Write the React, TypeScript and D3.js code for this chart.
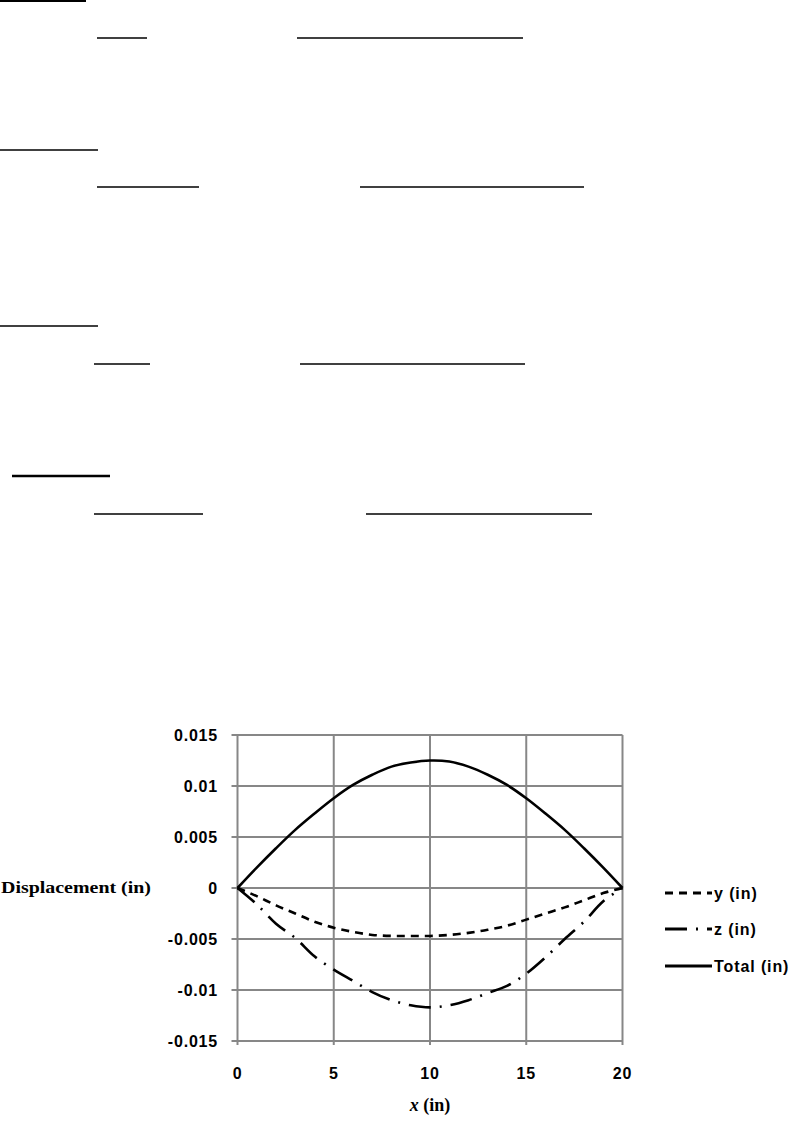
import React from "react";
import * as d3 from "d3";

const xValues = [0, 1, 2, 3, 4, 5, 6, 7, 8, 9, 10, 11, 12, 13, 14, 15, 16, 17, 18, 19, 20];
const yDisp = [0, -0.0008, -0.0017, -0.0025, -0.0033, -0.0039, -0.0043, -0.0046, -0.0047, -0.0047, -0.0047, -0.0046, -0.0044, -0.0041, -0.0037, -0.0031, -0.0025, -0.0019, -0.0012, -0.0005, 0];
const zDisp = [0, -0.0016, -0.0035, -0.0049, -0.0067, -0.0080, -0.0091, -0.0102, -0.0110, -0.0115, -0.0117, -0.0115, -0.0110, -0.0103, -0.0096, -0.0084, -0.0068, -0.0050, -0.0033, -0.0013, 0];
const totalDisp = [0, 0.0020, 0.0039, 0.0057, 0.0073, 0.0088, 0.0101, 0.0111, 0.0119, 0.0123, 0.0125, 0.0124, 0.0119, 0.0111, 0.0101, 0.0088, 0.0073, 0.0057, 0.0039, 0.0020, 0];

const xTicks = [0, 5, 10, 15, 20];
const xTickLabels = ["0", "5", "10", "15", "20"];
const yTicks = [0.015, 0.01, 0.005, 0, -0.005, -0.01, -0.015];
const yTickLabels = ["0.015", "0.01", "0.005", "0", "-0.005", "-0.01", "-0.015"];
const seriesNames = ["y (in)", "z (in)", "Total (in)"];

// decorative underlines of the document page (x1, x2, y, width)
const underlines: [number, number, number, number][] = [
  [0, 86, 1, 2],
  [97, 147, 38, 1.6],
  [297, 523, 38, 1.6],
  [0, 98, 150, 1.6],
  [97, 199, 187, 1.6],
  [360, 584, 187, 1.6],
  [0, 98, 326, 1.6],
  [94, 150, 364, 1.6],
  [300, 525, 364, 1.6],
  [12, 110, 476, 2.6],
  [94, 203, 514, 1.6],
  [366, 592, 514, 1.6],
];

export default function App() {
  const left = 237.5, right = 622.5, top = 735, bottom = 1041;
  const x = d3.scaleLinear().domain([0, 20]).range([left, right]);
  const y = d3.scaleLinear().domain([-0.015, 0.015]).range([bottom, top]);
  const grid = "#878787";
  const tickFont = "'Liberation Sans', Arial, sans-serif";

  const mk = (vals: number[]) =>
    d3
      .line<number>()
      .x((_, i) => x(xValues[i]))
      .y((d) => y(d))
      .curve(d3.curveCatmullRom.alpha(0.5))(vals) as string;

  const series = [
    { name: seriesNames[0], vals: yDisp, dash: "8,6" },
    { name: seriesNames[1], vals: zDisp, dash: "22,9,2,9" },
    { name: seriesNames[2], vals: totalDisp, dash: "" },
  ];
  const legendY = [893, 929, 966];

  return (
    <svg
      width={795}
      height={1122}
      style={{ position: "absolute", left: 0, top: 0, display: "block", background: "#fff" }}
    >
      <rect x={0} y={0} width={795} height={1122} fill="#fff" />
      {underlines.map(([a, b, yy, w], i) => (
        <line key={"u" + i} x1={a} x2={b} y1={yy} y2={yy} stroke="#000" strokeWidth={w} />
      ))}

      {/* grid */}
      {yTicks.map((t, i) => (
        <line key={"gy" + i} x1={left - 6} x2={right} y1={y(t)} y2={y(t)} stroke={grid} strokeWidth={2} />
      ))}
      {xTicks.map((t, i) => (
        <line key={"gx" + i} x1={x(t)} x2={x(t)} y1={top} y2={bottom + 4} stroke={grid} strokeWidth={2} />
      ))}

      {/* tick labels */}
      {yTicks.map((t, i) => (
        <text
          key={"ly" + i}
          x={218}
          y={y(t) + 5.5}
          textAnchor="end"
          fontFamily={tickFont}
          fontWeight="bold"
          fontSize={16}
          letterSpacing={0.8}
          fill="#000"
        >
          {yTickLabels[i]}
        </text>
      ))}
      {xTicks.map((t, i) => (
        <text
          key={"lx" + i}
          x={x(t)}
          y={1079}
          textAnchor="middle"
          fontFamily={tickFont}
          fontWeight="bold"
          fontSize={16}
          letterSpacing={0.8}
          fill="#000"
        >
          {xTickLabels[i]}
        </text>
      ))}

      {/* axis titles */}
      <text
        x={1}
        y={893}
        fontFamily="'Liberation Serif', 'Times New Roman', serif"
        fontWeight="bold"
        fontSize={17}
        textLength={150}
        lengthAdjust="spacingAndGlyphs"
        fill="#000"
      >
        Displacement (in)
      </text>
      <text
        x={430}
        y={1111}
        textAnchor="middle"
        fontFamily="'Liberation Serif', 'Times New Roman', serif"
        fontWeight="bold"
        fontSize={18}
        fill="#000"
      >
        <tspan fontStyle="italic">x</tspan> (in)
      </text>

      {/* series */}
      {series.map((s, i) => (
        <path
          key={"s" + i}
          d={mk(s.vals)}
          fill="none"
          stroke="#000"
          strokeWidth={2.6}
          strokeDasharray={s.dash || undefined}
        />
      ))}

      {/* legend */}
      {series.map((s, i) => (
        <g key={"lg" + i}>
          <line
            x1={665}
            x2={712}
            y1={legendY[i]}
            y2={legendY[i]}
            stroke="#000"
            strokeWidth={3}
            strokeDasharray={s.dash || undefined}
          />
          <text
            x={714}
            y={legendY[i] + 5.5}
            fontFamily={tickFont}
            fontWeight="bold"
            fontSize={16}
            letterSpacing={0.9}
            fill="#000"
          >
            {s.name}
          </text>
        </g>
      ))}
    </svg>
  );
}
